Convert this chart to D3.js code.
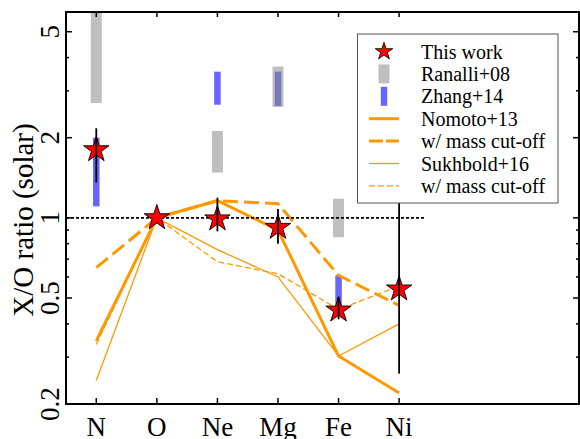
<!DOCTYPE html>
<html>
<head>
<meta charset="utf-8">
<script src="https://cdn.jsdelivr.net/npm/d3@7"></script>
<style>
  body { margin: 0; background: #fff; }
</style>
</head>
<body>
<div id="chart"></div>
<script>
// Elements on the x axis
var elements = ["N", "O", "Ne", "Mg", "Fe", "Ni"];

// This work: X/O ratio and error range
var thisWork   = [1.80, 1.00, 0.99, 0.92, 0.45, 0.54];
var thisWorkLo = [1.36, null, 0.89, 0.80, 0.416, 0.26];
var thisWorkHi = [2.17, null, 1.19, 1.08, 0.506, 1.20];

// Ranalli+08 ranges (null = none)
var ranalliLo = [2.70, null, 1.48, 2.61, 0.846, null];
var ranalliHi = [7.00, null, 2.12, 3.70, 1.18, null];

// Zhang+14 ranges
var zhangLo = [1.105, null, 2.66, 2.63, 0.46, null];
var zhangHi = [2.00, null, 3.54, 3.54, 0.608, null];

// Model lines
var nomoto      = [0.345, 1.0, 1.16, 0.90, 0.303, 0.22];
var nomotoCut   = [0.65, 1.0, 1.16, 1.13, 0.608, 0.469];
var sukhbold    = [0.245, 1.0, 0.76, 0.60, 0.303, 0.40];
var sukhboldCut = [0.335, 1.0, 0.684, 0.617, 0.453, 0.555];

var yTickMajor = [0.2, 0.5, 1, 2, 5];
var yTickMinor = [0.3, 0.4, 0.6, 0.7, 0.8, 0.9, 3, 4];

var legendLabels = ["This work", "Ranalli+08", "Zhang+14", "Nomoto+13",
                    "w/ mass cut-off", "Sukhbold+16", "w/ mass cut-off"];

// Figure proportions:
var width = 580, height = 439;
var pl = 66, pr = 579, pt = 12, pb = 404;
var orange = "#ff9900", gray = "#bfbfbf", blue = "#6666ff";
var serif = "'Liberation Serif', 'Times New Roman', 'DejaVu Serif', serif";

var svg = d3.select("#chart").append("svg")
  .attr("width", width)
  .attr("height", height)
  .attr("font-family", serif);

var x = d3.scaleLinear().domain([-0.5, 7.97]).range([pl, pr]);
var y = d3.scaleLog().domain([0.2, 5.93]).range([pb, pt]);

svg.append("clipPath").attr("id", "plot-clip")
  .append("rect")
    .attr("x", pl).attr("y", pt)
    .attr("width", pr - pl).attr("height", pb - pt);

var plot = svg.append("g").attr("clip-path", "url(#plot-clip)");

// Range bars
function drawBars( lo, hi, color, w, opacity ) {
  var idx = d3.range(elements.length).filter(i => lo[i] != null);
  plot.append("g")
    .selectAll("rect")
    .data(idx)
    .enter()
    .append("rect")
      .attr("x", i => x(i) - w/2)
      .attr("y", i => y(hi[i]))
      .attr("width", w)
      .attr("height", i => y(lo[i]) - y(hi[i]))
      .attr("fill", color)
      .attr("fill-opacity", opacity);
}
drawBars(zhangLo, zhangHi, blue, 6.5, 1);
// semi-transparent grey: shows #bfbfbf on white, tints the blue where they overlap
drawBars(ranalliLo, ranalliHi, "#888888", 11, 0.54);

// Model lines
var line = d3.line().x((d, i) => x(i)).y(d => y(d));
function drawLine( values, w, dash ) {
  plot.append("path")
    .datum(values)
    .attr("d", line)
    .attr("fill", "none")
    .attr("stroke", orange)
    .attr("stroke-width", w)
    .attr("stroke-dasharray", dash);
}
drawLine(sukhbold, 1.3, null);
drawLine(sukhboldCut, 1.3, "6,3");
drawLine(nomoto, 3, null);
drawLine(nomotoCut, 3, "15,6");

// Reference line at 1
plot.append("line")
  .attr("x1", x(-0.5)).attr("x2", x(5.43))
  .attr("y1", y(1)).attr("y2", y(1))
  .attr("stroke", "#000")
  .attr("stroke-width", 1.6)
  .attr("stroke-dasharray", "3,2");

// Stars
var star = d3.symbol().type(d3.symbolStar).size(200);
plot.selectAll(".star")
  .data(thisWork)
  .enter()
  .append("path")
    .attr("class", "star")
    .attr("d", star)
    .attr("transform", (d, i) => "translate(" + x(i) + "," + y(d) + ")")
    .attr("fill", "#ff0000")
    .attr("stroke", "#000")
    .attr("stroke-width", 0.9);

// Error bars
plot.selectAll(".err")
  .data(d3.range(elements.length).filter(i => thisWorkLo[i] != null))
  .enter()
  .append("line")
    .attr("class", "err")
    .attr("x1", i => x(i)).attr("x2", i => x(i))
    .attr("y1", i => y(thisWorkLo[i]))
    .attr("y2", i => y(thisWorkHi[i]))
    .attr("stroke", "#000")
    .attr("stroke-width", 1.8);

// Frame
svg.append("path")
  .attr("d", "M" + pl + "," + pt + "H" + width + "M" + pl + "," + pb + "H" + width +
             "M" + pl + "," + (pt - 1) + "V" + (pb + 1) +
             "M" + pr + "," + (pt - 1) + "V" + (pb + 1))
  .attr("stroke", "#000")
  .attr("stroke-width", 2)
  .attr("fill", "none");

// Inward ticks
var ticks = svg.append("g").attr("stroke", "#000").attr("stroke-width", 1.5);
yTickMajor.concat(yTickMinor).forEach(function(v) {
  var len = yTickMajor.includes(v) ? 6 : 3;
  ticks.append("line").attr("x1", pl).attr("x2", pl + len).attr("y1", y(v)).attr("y2", y(v));
  ticks.append("line").attr("x1", pr).attr("x2", pr - len).attr("y1", y(v)).attr("y2", y(v));
});
elements.forEach(function(e, i) {
  ticks.append("line").attr("x1", x(i)).attr("x2", x(i)).attr("y1", pb).attr("y2", pb - 6);
  ticks.append("line").attr("x1", x(i)).attr("x2", x(i)).attr("y1", pt).attr("y2", pt + 5);
});

// Tick labels
svg.selectAll(".xlab")
  .data(elements)
  .enter()
  .append("text")
    .attr("class", "xlab")
    .attr("x", (d, i) => x(i))
    .attr("y", 436)
    .attr("text-anchor", "middle")
    .attr("font-size", 27)
    .text(d => d);

svg.selectAll(".ylab")
  .data(yTickMajor)
  .enter()
  .append("text")
    .attr("class", "ylab")
    .attr("transform", d => "translate(59," + y(d) + ") rotate(-90)")
    .attr("text-anchor", "middle")
    .attr("font-size", 27)
    .text(d => d);

svg.append("text")
  .attr("transform", "translate(33," + 220 + ") rotate(-90)")
  .attr("text-anchor", "middle")
  .attr("font-size", 29)
  .text("X/O ratio (solar)");

// Legend
var lx = 357.5, ly = 34, lw = 200.5, lh = 169;
var legend = svg.append("g");
legend.append("rect")
  .attr("x", lx).attr("y", ly).attr("width", lw).attr("height", lh)
  .attr("fill", "#fff")
  .attr("stroke", "#555")
  .attr("stroke-width", 1);

var rowY = d3.range(legendLabels.length).map(i => 51.5 + i * 22.4);
var symX = 384;

legend.append("path")
  .attr("d", d3.symbol().type(d3.symbolStar).size(95))
  .attr("transform", "translate(" + symX + "," + rowY[0] + ")")
  .attr("fill", "#ff0000").attr("stroke", "#000").attr("stroke-width", 0.8);
legend.append("rect")
  .attr("x", symX - 5.5).attr("y", rowY[1] - 9.5).attr("width", 11).attr("height", 19)
  .attr("fill", gray);
legend.append("rect")
  .attr("x", symX - 3.2).attr("y", rowY[2] - 9.5).attr("width", 6.4).attr("height", 19)
  .attr("fill", blue);

var legendLines = [[3, null], [3, "14,3"], [1.3, null], [1.3, "6,3"]];
legendLines.forEach(function(s, k) {
  legend.append("line")
    .attr("x1", 369).attr("x2", 399)
    .attr("y1", rowY[k + 3]).attr("y2", rowY[k + 3])
    .attr("stroke", orange)
    .attr("stroke-width", s[0])
    .attr("stroke-dasharray", s[1]);
});

legend.selectAll(".ltext")
  .data(legendLabels)
  .enter()
  .append("text")
    .attr("class", "ltext")
    .attr("x", 421)
    .attr("y", (d, i) => rowY[i] + 7)
    .attr("font-size", 20)
    .text(d => d);
</script>
</body>
</html>
